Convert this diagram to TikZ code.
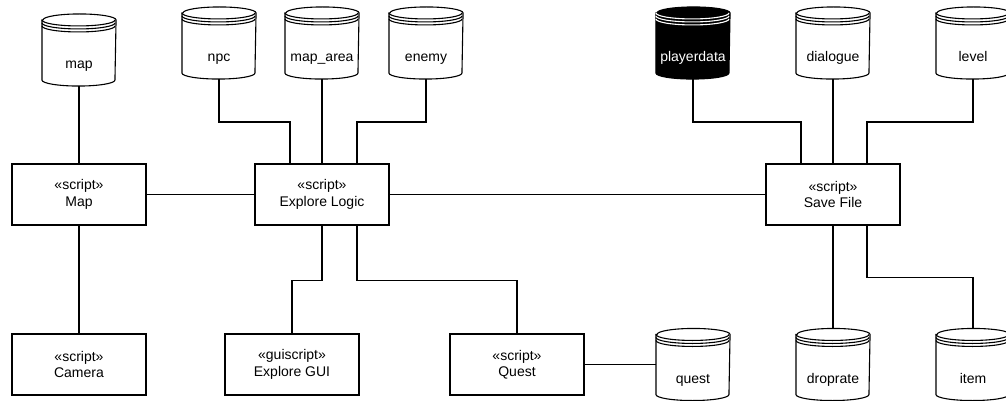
\documentclass[tikz,border=0pt]{standalone}
\usepackage{fontspec}
\setmainfont{Liberation Sans}
\usetikzlibrary{calc}

% Data store: an invisible box that carries the name, a cylinder drawn
% around it, and the label set near its bottom.
\newcommand\datastore[3]{%
  \node[storebox] (#1) at (#2) {};
  \path[storebody]
    ($(#1.north west)+(0,6)$) -- ($(#1.south west)+(0,-6)$)
    arc[start angle=180,end angle=360,x radius=36.5pt,y radius=6pt]
    -- ($(#1.north east)+(0,6)$)
    arc[start angle=0,end angle=180,x radius=36.5pt,y radius=6pt] -- cycle;
  \draw[storering] ($(#1.north west)+(0,6)$)
    arc[start angle=180,end angle=360,x radius=36.5pt,y radius=6pt];
  \draw[storering] ($(#1.north west)+(0,9)$)
    arc[start angle=180,end angle=360,x radius=36.5pt,y radius=6pt];
  \draw[storering] ($(#1.north west)+(0,12)$)
    arc[start angle=180,end angle=360,x radius=36.5pt,y radius=6pt];
  \node[storelabel] (#1-label) at ($(#1.south)+(0,-17.5)$) {#3};
}

\begin{document}
\begin{tikzpicture}[x=1pt,y=-1pt,
    line width=1.1pt,
    every node/.style={font=\fontsize{14}{16.5}\selectfont},
    script/.style={draw, fill=white, rectangle, minimum width=134pt,
      minimum height=61pt, inner sep=0pt, align=center},
    storebox/.style={rectangle, minimum width=73pt, minimum height=71pt,
      inner sep=0pt},
    storebody/.style={draw=black, fill=white},
    storering/.style={draw=black},
    storelabel/.style={anchor=base, inner sep=0pt, text=black},
    wire/.style={draw=black}]
  \useasboundingbox (0,0) rectangle (1006,401);

  % scripts
  \node[script] (map-s)   at (79,194.5)  {«script»\\Map};
  \node[script] (camera)  at (79,364.5)  {«script»\\Camera};
  \node[script] (logic)   at (322,194.5) {«script»\\Explore Logic};
  \node[script] (gui)     at (292,364.5) {«guiscript»\\Explore GUI};
  \node[script] (quest-s) at (517,364.5) {«script»\\Quest};
  \node[script] (save)    at (833,194.5) {«script»\\Save File};

  % data stores
  \datastore{map}{79,50}{map}
  \datastore{npc}{219,43}{npc}
  \datastore{maparea}{322,43}{map\_area}
  \datastore{enemy}{426,43}{enemy}
  \begin{scope}[storebody/.style={draw=black, fill=black},
      storering/.style={draw=white},
      storelabel/.style={anchor=base, inner sep=0pt, text=white}]
    \datastore{player}{693,43}{playerdata}
  \end{scope}
  \datastore{dialogue}{833,43}{dialogue}
  \datastore{level}{973,43}{level}
  \datastore{quest}{693,364.5}{quest}
  \datastore{droprate}{833,364.5}{droprate}
  \datastore{item}{973,364.5}{item}

  % connectors
  \draw[wire] (map.south) -- (map-s.north);
  \draw[wire] (map-s.south) -- (camera.north);
  \draw[wire] (map-s.east) -- (logic.west);
  \draw[wire] (logic.east) -- (save.west);

  \draw[wire] (npc.south) -- ++(0,43) -| ($(logic.north)+(-32,0)$);
  \draw[wire] (maparea.south) -- (logic.north);
  \draw[wire] (enemy.south) -- ++(0,43) -| ($(logic.north)+(35,0)$);

  \draw[wire] (player.south) -- ++(0,43) -| ($(save.north)+(-32,0)$);
  \draw[wire] (dialogue.south) -- (save.north);
  \draw[wire] (level.south) -- ++(0,43) -| ($(save.north)+(34,0)$);

  \draw[wire] (logic.south) -- ++(0,55) -| (gui.north);
  \draw[wire] ($(logic.south)+(35,0)$) -- ++(0,55) -| (quest-s.north);
  \draw[wire] (quest-s.east) -- (quest.west);

  \draw[wire] (save.south) -- (droprate.north);
  \draw[wire] ($(save.south)+(34,0)$) -- ++(0,52) -| (item.north);
\end{tikzpicture}
\end{document}
